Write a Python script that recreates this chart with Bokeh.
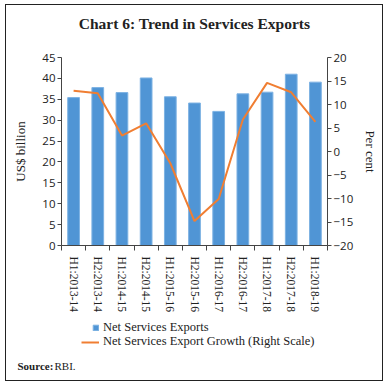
from bokeh.plotting import figure
from bokeh.layouts import column
from bokeh.models import (Range1d, LinearAxis, FixedTicker, Legend, LegendItem,
                          Label, ColumnDataSource, InlineStyleSheet)
from bokeh.embed import file_html
from bokeh.resources import INLINE

categories = ["H1:2013-14", "H2:2013-14", "H1:2014-15", "H2:2014-15", "H1:2015-16",
              "H2:2015-16", "H1:2016-17", "H2:2016-17", "H1:2017-18", "H2:2017-18",
              "H1:2018-19"]
exports = [35.4, 37.8, 36.6, 40.1, 35.6, 34.1, 32.1, 36.3, 36.7, 41.0, 39.1]
growth = [12.9, 12.4, 3.4, 6.0, -2.5, -14.8, -10.1, 6.8, 14.6, 12.6, 6.3]
left_ticks = [0, 5, 10, 15, 20, 25, 30, 35, 40, 45]
right_ticks = [-20, -15, -10, -5, 0, 5, 10, 15, 20]

title_text = "Chart 6: Trend in Services Exports"
bar_name = "Net Services Exports"
line_name = "Net Services Export Growth (Right Scale)"
source_head = "Source:"
source_body = "RBI."

BLUE = "#5095D5"
ORANGE = "#F07E32"
SERIF = "Liberation Serif"
SANS = "Open Sans"
W = 389


def bare(height):
    f = figure(width=W, height=height, output_backend="svg", toolbar_location=None,
               x_axis_type=None, y_axis_type=None, x_range=Range1d(-2, -1),
               y_range=Range1d(-2, -1), min_border=0, frame_align=False,
               title_location=None)
    f.outline_line_color = None
    f.xgrid.visible = False
    f.ygrid.visible = False
    f.border_fill_color = "white"
    f.background_fill_color = "white"
    return f


# ---- title strip
pt = bare(40)
pt.add_layout(Label(x=194, y=17, x_units="screen", y_units="screen", text=title_text,
                    text_align="center", text_baseline="middle", text_font=SERIF,
                    text_font_style="bold", text_font_size="15.5px", text_color="#222"))

# ---- main chart
xs = [i + 0.5 for i in range(len(categories))]
src = ColumnDataSource(dict(x=xs, cat=categories, exp=exports, gr=growth))

p = figure(width=W, height=280, output_backend="svg", toolbar_location=None,
           x_range=Range1d(0, len(categories)), y_range=Range1d(0, 45),
           min_border_left=61, min_border_right=62, min_border_top=17,
           min_border_bottom=75, frame_align=False, title_location=None)
p.outline_line_color = None
p.xgrid.visible = False
p.ygrid.visible = False
p.background_fill_color = "white"
p.border_fill_color = "white"
p.extra_y_ranges = {"pct": Range1d(-20, 20)}

bars = p.vbar(x="x", top="exp", width=0.485, source=src, fill_color=BLUE,
              line_color="#7DB2E3", line_width=1)
line = p.line(x="x", y="gr", source=src, y_range_name="pct", line_color=ORANGE,
              line_width=2)

xa = p.xaxis[0]
xa.ticker = FixedTicker(ticks=xs, minor_ticks=list(range(len(categories) + 1)))
xa.major_label_overrides = {x: c for x, c in zip(xs, categories)}
xa.major_tick_in = 0
xa.major_tick_out = 0
xa.minor_tick_in = 0
xa.minor_tick_out = 5
xa.minor_tick_line_color = "#444"
xa.axis_line_color = "#444"
xa.major_label_orientation = "vertical"
xa.major_label_text_font = SERIF
xa.major_label_text_font_size = "11.5px"
xa.major_label_text_color = "#222"
xa.major_label_standoff = 6

ya = p.yaxis[0]
ya.ticker = FixedTicker(ticks=left_ticks)
ya.minor_tick_line_color = None
ya.major_tick_in = 0
ya.major_tick_out = 4
ya.axis_line_color = "#444"
ya.major_tick_line_color = "#444"
ya.major_label_text_font = SANS
ya.major_label_text_font_size = "11.5px"
ya.major_label_text_color = "#222"
ya.major_label_standoff = 2
ya.axis_label = "US$ billion"
ya.axis_label_text_font = SERIF
ya.axis_label_text_font_style = "normal"
ya.axis_label_text_font_size = "13px"
ya.axis_label_text_color = "#222"
ya.axis_label_standoff = 11

ra = LinearAxis(y_range_name="pct", ticker=FixedTicker(ticks=right_ticks))
ra.minor_tick_line_color = None
ra.major_tick_in = 0
ra.major_tick_out = 4
ra.axis_line_color = "#444"
ra.major_tick_line_color = "#444"
ra.major_label_text_font = SANS
ra.major_label_text_font_size = "11.5px"
ra.major_label_text_color = "#222"
ra.major_label_standoff = 2
ra.axis_label = "Per cent"
ra.axis_label_text_font = SERIF
ra.axis_label_text_font_style = "normal"
ra.axis_label_text_font_size = "13px"
ra.axis_label_text_color = "#222"
ra.axis_label_standoff = 7
p.add_layout(ra, "right")

# ---- legend and source strip (its ranges keep these series out of view;
#      they only supply the legend swatches)
pl = bare(67)
lg_bar = pl.vbar(x="x", top="exp", width=0.485, source=src, fill_color=BLUE,
                 line_color="#7DB2E3", line_width=1)
lg_line = pl.line(x="x", y="gr", source=src, line_color=ORANGE, line_width=2)

common = dict(label_height=14, label_standoff=4, padding=0, margin=0, spacing=0,
              border_line_color=None, background_fill_alpha=0,
              label_text_font=SERIF, label_text_font_size="12.5px",
              label_text_color="#222")
leg1 = Legend(items=[LegendItem(label=bar_name, renderers=[lg_bar])],
              location=(92, 52), glyph_width=7, glyph_height=7, **common)
leg2 = Legend(items=[LegendItem(label=line_name, renderers=[lg_line])],
              location=(81, 38), glyph_width=18, glyph_height=14, **common)
pl.add_layout(leg1, "center")
pl.add_layout(leg2, "center")
pl.add_layout(Label(x=17, y=22, x_units="screen", y_units="screen", text=source_head,
                    text_align="left", text_baseline="middle", text_font=SERIF,
                    text_font_style="bold", text_font_size="11px", text_color="#222"))
pl.add_layout(Label(x=54, y=22, x_units="screen", y_units="screen", text=source_body,
                    text_align="left", text_baseline="middle", text_font=SERIF,
                    text_font_size="11px", text_color="#222"))

layout = column(pt, p, pl, spacing=0)
layout.stylesheets = [InlineStyleSheet(css=(
    ":host{position:relative;}"
    ":host::after{content:'';position:absolute;left:5px;top:4px;right:6px;bottom:6px;"
    "border:1.3px solid #222;pointer-events:none;box-sizing:border-box;z-index:10;}"))]

open("out.html", "w").write(file_html(layout, INLINE))
